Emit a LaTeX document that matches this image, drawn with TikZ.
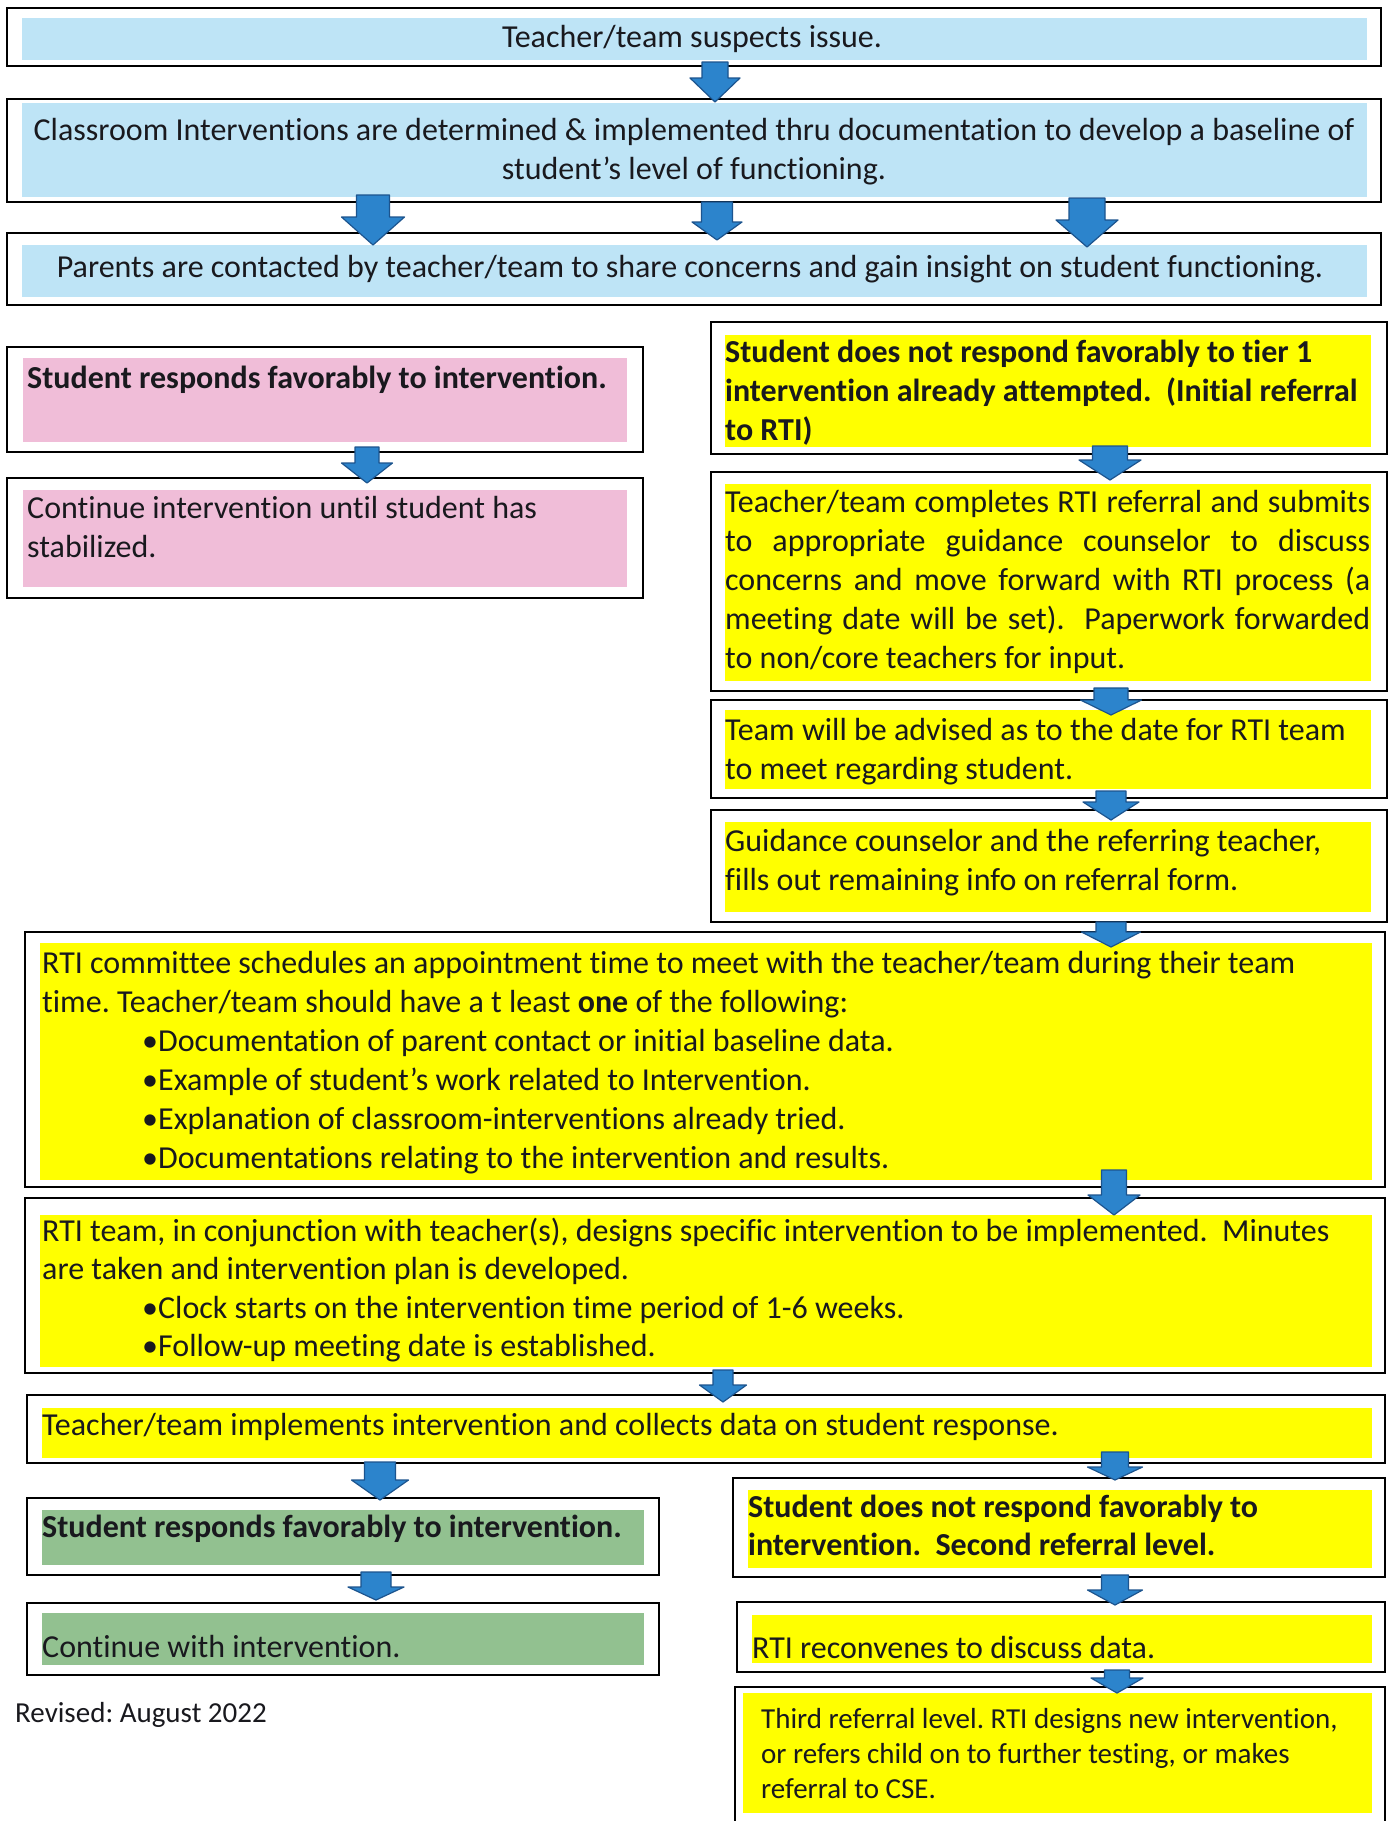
\documentclass[tikz,border=0pt]{standalone}
\usepackage{fontspec}
\setmainfont{Carlito}[Ligatures=CommonOff]
\usetikzlibrary{fit}
\frenchspacing
\definecolor{cblue}{RGB}{190,228,246}
\definecolor{cpink}{RGB}{240,189,216}
\definecolor{cyel}{RGB}{255,255,0}
\definecolor{cgreen}{RGB}{146,193,144}
\definecolor{abl}{RGB}{44,132,204}
\definecolor{abe}{RGB}{28,84,142}
\definecolor{txc}{RGB}{25,25,30}
\newcommand\fs{\fontsize{32}{39}\selectfont}
\newcommand\fss{\fontsize{29}{35}\selectfont}
\newcommand\bul{\hspace*{100pt}•}
% x, ytop, yhead, ytip, shaft width, head width
\newcommand\barrow[6]{%
  \filldraw[blk] (#1-#5/2,#2) -- (#1+#5/2,#2) -- (#1+#5/2,#3) -- (#1+#6/2,#3)
    -- (#1,#4) -- (#1-#6/2,#3) -- (#1-#5/2,#3) -- cycle;}
\tikzset{
  frame/.style={draw=black, line width=1.6pt, fill=white, inner sep=0pt},
  blk/.style={fill=abl, draw=abe, line width=1.2pt, line join=round},
  tx/.style={anchor=base west, inner sep=0pt, text=txc, font=\fs},
  txc/.style={anchor=base, inner sep=0pt, text=txc, font=\fs},
}
\begin{document}
\begin{tikzpicture}[x=1pt,y=-1pt]
\useasboundingbox[fill=white] (0,0) rectangle (1388,1821);
% frames
\node[frame, fit={(7,8)(1381,66)}] (b1) {};
\node[frame, fit={(7,99)(1381,202)}] (b2) {};
\node[frame, fit={(7,233)(1381,305)}] (b3) {};
\node[frame, fit={(7,347)(643,452)}] (bA) {};
\node[frame, fit={(7,478)(643,598)}] (bB) {};
\node[frame, fit={(711,322)(1387,454)}] (bC) {};
\node[frame, fit={(711,472)(1387,691)}] (bD) {};
\node[frame, fit={(711,700)(1387,798)}] (bE) {};
\node[frame, fit={(711,810)(1387,922)}] (bF) {};
\node[frame, fit={(25,932)(1385,1187)}] (bG) {};
\node[frame, fit={(25,1198)(1385,1373)}] (bH) {};
\node[frame, fit={(27,1395)(1385,1463)}] (bI) {};
\node[frame, fit={(27,1498)(659,1575)}] (bJ) {};
\node[frame, fit={(733,1478)(1385,1577)}] (bK) {};
\node[frame, fit={(27,1603)(659,1675)}] (bL) {};
\node[frame, fit={(737,1602)(1385,1672)}] (bM) {};
\node[frame, fit={(735,1687)(1385,1850)}] (bN) {};
% fills
\fill[cblue] (22,18) rectangle (1367,60);
\fill[cblue] (22,103) rectangle (1367,197);
\fill[cblue] (22,245) rectangle (1367,297);
\fill[cpink] (23,358) rectangle (627,442);
\fill[cpink] (23,490) rectangle (627,587);
\fill[cyel] (725,335) rectangle (1371,447);
\fill[cyel] (725,484) rectangle (1371,681);
\fill[cyel] (725,710) rectangle (1371,789);
\fill[cyel] (725,822) rectangle (1371,912);
\fill[cyel] (40,943) rectangle (1372,1180);
\fill[cyel] (40,1215) rectangle (1372,1367);
\fill[cyel] (42,1408) rectangle (1372,1458);
\fill[cgreen] (42,1510) rectangle (644,1565);
\fill[cyel] (748,1490) rectangle (1372,1568);
\fill[cgreen] (42,1613) rectangle (644,1665);
\fill[cyel] (752,1615) rectangle (1372,1663);
\fill[cyel] (743,1693) rectangle (1372,1813);
% arrows
\barrow{715}{62}{78}{102}{26}{50}
\barrow{373}{195}{217}{245}{33}{63}
\barrow{717}{202}{222}{240}{31}{50}
\barrow{1087}{198}{220}{247}{36}{62}
\barrow{367}{447}{463}{483}{24}{51}
\barrow{1110}{446}{460}{480}{35}{62}
\barrow{1111}{688}{700}{715}{34}{61}
\barrow{1111}{791}{802}{820}{30}{56}
\barrow{1111}{922}{932}{947}{30}{59}
\barrow{1114}{1170}{1195}{1215}{25}{52}
\barrow{723}{1370}{1385}{1402}{20}{47}
\barrow{380}{1462}{1480}{1500}{31}{57}
\barrow{1115}{1452}{1467}{1480}{27}{55}
\barrow{376}{1572}{1587}{1600}{30}{56}
\barrow{1115}{1575}{1590}{1605}{27}{55}
\barrow{1117}{1670}{1678}{1693}{25}{52}
% texts
\node[txc] (t1) at (692,47) {Teacher/team suspects issue.};
\node[txc] (t2) at (694,140) {\parbox[t]{1340pt}{\centering\fs Classroom Interventions are determined \& implemented thru documentation to develop a baseline of\\ student’s level of functioning.}};
\node[txc] (t3) at (690,277) {Parents are contacted by teacher/team to share concerns and gain insight on student functioning.};
\node[tx] (tA) at (27,388) {\bfseries Student responds favorably to intervention.};
\node[tx] (tB) at (27,518) {\parbox[t]{600pt}{\fs Continue intervention until student has\\ stabilized.}};
\node[tx] (tC) at (725,362) {\parbox[t]{646pt}{\fs\bfseries Student does not respond favorably to tier 1\\ intervention already attempted.\ \ (Initial referral\\ to RTI)}};
\node[tx] (tD) at (725,512) {\parbox[t]{645pt}{\fs
 \makebox[\linewidth][s]{Teacher/team completes RTI referral and submits}\\
 \makebox[\linewidth][s]{to appropriate guidance counselor to discuss}\\
 \makebox[\linewidth][s]{concerns and move forward with RTI process (a}\\
 \makebox[\linewidth][s]{meeting date will be set).\ \ Paperwork forwarded}\\
 to non/core teachers for input.}};
\node[tx] (tE) at (725,740) {\parbox[t]{645pt}{\fs Team will be advised as to the date for RTI team\\ to meet regarding student.}};
\node[tx] (tF) at (725,851) {\parbox[t]{645pt}{\fs Guidance counselor and the referring teacher,\\ fills out remaining info on referral form.}};
\node[tx] (tG) at (42,973) {\parbox[t]{1320pt}{\fs RTI committee schedules an appointment time to meet with the teacher/team during their team\\
 time. Teacher/team should have a t least \textbf{one} of the following:\\
 \bul Documentation of parent contact or initial baseline data.\\
 \bul Example of student’s work related to Intervention.\\
 \bul Explanation of classroom-interventions already tried.\\
 \bul Documentations relating to the intervention and results.}};
\node[tx] (tH) at (42,1241) {\parbox[t]{1320pt}{\fontsize{32}{38.5}\selectfont RTI team, in conjunction with teacher(s), designs specific intervention to be implemented.\ \ Minutes\\
 are taken and intervention plan is developed.\\
 \bul Clock starts on the intervention time period of 1-6 weeks.\\
 \bul Follow-up meeting date is established.}};
\node[tx] (tI) at (42,1435) {Teacher/team implements intervention and collects data on student response.};
\node[tx] (tJ) at (42,1537) {\bfseries Student responds favorably to intervention.};
\node[tx] (tK) at (748,1517) {\parbox[t]{620pt}{\fontsize{32}{38}\selectfont\bfseries Student does not respond favorably to\\ intervention.\ \ Second referral level.}};
\node[tx] (tL) at (42,1657) {Continue with intervention.};
\node[tx] (tM) at (752,1658) {RTI reconvenes to discuss data.};
\node[tx] (tN) at (761,1728) {\parbox[t]{610pt}{\fss Third referral level. RTI designs new intervention,\\ or refers child on to further testing, or makes\\ referral to CSE.}};
\node[tx, font=\fss] (rev) at (15,1722) {Revised: August 2022};
\end{tikzpicture}
\end{document}
